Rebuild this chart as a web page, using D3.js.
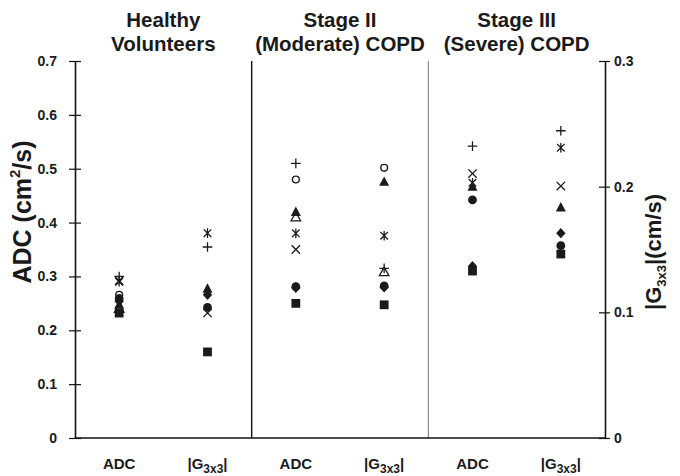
<!DOCTYPE html>
<html>
<head>
<meta charset="utf-8">
<script src="https://cdn.jsdelivr.net/npm/d3@7"></script>
<style>
body{margin:0;background:#fff;}
text{font-family:"Liberation Sans",Arial,sans-serif;font-weight:bold;fill:#1a1a1a;}
</style>
</head>
<body>
<svg id="chart"></svg>
<script>
// columns: healthy ADC, healthy G, stage II ADC, stage II G, stage III ADC, stage III G
var columns = ["hADC","hG","mADC","mG","sADC","sG"]
var groupTitles = [["Healthy","Volunteers"],["Stage II","(Moderate) COPD"],["Stage III","(Severe) COPD"]]
var leftTicks = [0,0.1,0.2,0.3,0.4,0.5,0.6,0.7]
var rightTicks = [0,0.1,0.2,0.3]

// one value per column, ADC columns in cm^2/s, G columns in cm/s (null = not shown)
var openCircle   = [0.266, null,   0.480, 0.215, null,  null]
var openTriangle = [0.240, null,   0.410, 0.132, null,  null]
var plus         = [0.300, 0.152,  0.510, 0.135, 0.542, 0.2445]
var cross        = [0.292, 0.0995, 0.350, null,  0.491, 0.2005]
var asterisk     = [0.290, 0.163,  0.380, 0.161, 0.474, 0.231]
var filledTri    = [0.248, 0.119,  0.420, 0.204, 0.467, 0.1836]
var filledCircle = [0.259, 0.104,  0.281, 0.121, 0.442, 0.153]
var diamond      = [0.254, 0.114,  0.279, 0.120, 0.319, 0.163]
var square       = [0.232, 0.0685, 0.250, 0.106, 0.310, 0.1464]

var series = [
  {shape:"openCircle", values:openCircle},
  {shape:"openTriangle", values:openTriangle},
  {shape:"plus", values:plus},
  {shape:"cross", values:cross},
  {shape:"asterisk", values:asterisk},
  {shape:"filledTri", values:filledTri},
  {shape:"filledCircle", values:filledCircle},
  {shape:"diamond", values:diamond},
  {shape:"square", values:square}
]

var screen = {width:680, height:476}
var margin = {left:75, right:75, top:61, bottom:38}
var plotRight = screen.width - margin.right
var plotBottom = screen.height - margin.bottom

var svg = d3.select("#chart")
  .attr("width", screen.width)
  .attr("height", screen.height)

var xScale = d3.scalePoint()
  .domain(columns)
  .range([margin.left, plotRight])
  .padding(0.5)

var yLeft = d3.scaleLinear().domain([0,0.7]).range([plotBottom, margin.top])
var yRight = d3.scaleLinear().domain([0,0.3]).range([plotBottom, margin.top])

var panelScale = d3.scaleLinear().domain([0,3]).range([margin.left, plotRight])

// panel separators
svg.append("line")
  .attr("x1", panelScale(1)).attr("x2", panelScale(1))
  .attr("y1", margin.top).attr("y2", plotBottom)
  .attr("stroke", "#111").attr("stroke-width", 1.4)
svg.append("line")
  .attr("x1", panelScale(2)).attr("x2", panelScale(2))
  .attr("y1", margin.top).attr("y2", plotBottom)
  .attr("stroke", "#777").attr("stroke-width", 1)

// bottom line
svg.append("line")
  .attr("x1", margin.left).attr("x2", plotRight)
  .attr("y1", plotBottom).attr("y2", plotBottom)
  .attr("stroke", "#111").attr("stroke-width", 1.6)

var leftAxis = d3.axisLeft(yLeft)
  .tickValues(leftTicks)
  .tickSizeOuter(0)
  .tickPadding(12)
  .tickFormat(function(d){ return d==0 ? "0" : d3.format(".1f")(d) })
var gl = svg.append("g")
  .attr("transform", "translate(" + margin.left + ",0)")
  .call(leftAxis)
gl.selectAll(".tick line").attr("x1", 6).attr("x2", -6).attr("stroke", "#111").attr("stroke-width", 1.2)
gl.select(".domain").attr("stroke", "#111").attr("stroke-width", 1.6)
gl.selectAll(".tick text").attr("font-size", 14).attr("fill", "#1a1a1a").attr("font-family", "Liberation Sans, Arial, sans-serif")

var rightAxis = d3.axisRight(yRight)
  .tickValues(rightTicks)
  .tickSizeOuter(0)
  .tickPadding(3)
  .tickFormat(function(d){ return d==0 ? "0" : d3.format(".1f")(d) })
var gr = svg.append("g")
  .attr("transform", "translate(" + plotRight + ",0)")
  .call(rightAxis)
gr.selectAll(".tick line").attr("x1", -6).attr("x2", 5).attr("stroke", "#111").attr("stroke-width", 1.2)
gr.select(".domain").attr("stroke", "#111").attr("stroke-width", 1.6)
gr.selectAll(".tick text").attr("font-size", 14).attr("fill", "#1a1a1a").attr("font-family", "Liberation Sans, Arial, sans-serif")

// panel titles
groupTitles.forEach(function(t, i){
  var cx = (panelScale(i) + panelScale(i+1)) / 2
  t.forEach(function(line, j){
    svg.append("text")
      .attr("x", cx)
      .attr("y", 27 + j*24)
      .attr("text-anchor", "middle")
      .attr("font-size", 20.5)
      .text(line)
  })
})

// category labels
columns.forEach(function(c, i){
  var t = svg.append("text")
    .attr("x", xScale(c))
    .attr("y", 469)
    .attr("text-anchor", "middle")
    .attr("font-size", 15)
  if (i % 2 == 0) {
    t.text("ADC")
  } else {
    t.append("tspan").text("|G")
    t.append("tspan").attr("font-size", 12).attr("dy", 4).text("3x3")
    t.append("tspan").attr("dy", -4).text("|")
  }
})

// axis titles
svg.append("text")
  .attr("transform", "translate(31,212) rotate(-90)")
  .attr("text-anchor", "middle")
  .attr("font-size", 25)
  .call(function(t){
    t.append("tspan").text("ADC (cm")
    t.append("tspan").attr("font-size", 15).attr("dy", -11).text("2")
    t.append("tspan").attr("dy", 11).text("/s)")
  })

svg.append("text")
  .attr("transform", "translate(661,252) rotate(-90)")
  .attr("text-anchor", "middle")
  .attr("font-size", 22)
  .call(function(t){
    t.append("tspan").text("|G")
    t.append("tspan").attr("font-size", 13).attr("dy", 5).text("3x3")
    t.append("tspan").attr("dy", -5).text("|(cm/s)")
  })

// markers
function drawMarker(g, shape, px, py){
  var s = 4.8
  var col = "#1a1a1a"
  if (shape == "plus") {
    g.append("path").attr("d", "M"+(px-s)+","+py+"H"+(px+s)+"M"+px+","+(py-s)+"V"+(py+s))
      .attr("stroke", col).attr("stroke-width", 1.3).attr("fill", "none")
  } else if (shape == "cross") {
    var c = 4.2
    g.append("path").attr("d", "M"+(px-c)+","+(py-c)+"L"+(px+c)+","+(py+c)+"M"+(px-c)+","+(py+c)+"L"+(px+c)+","+(py-c))
      .attr("stroke", col).attr("stroke-width", 1.3).attr("fill", "none")
  } else if (shape == "asterisk") {
    var c = 3.8
    g.append("path").attr("d", "M"+(px-c)+","+(py-c)+"L"+(px+c)+","+(py+c)+"M"+(px-c)+","+(py+c)+"L"+(px+c)+","+(py-c)+"M"+px+","+(py-s)+"V"+(py+s))
      .attr("stroke", col).attr("stroke-width", 1.3).attr("fill", "none")
  } else if (shape == "openCircle") {
    g.append("circle").attr("cx", px).attr("cy", py).attr("r", 3.4)
      .attr("stroke", col).attr("stroke-width", 1.4).attr("fill", "#fff")
  } else if (shape == "filledCircle") {
    g.append("circle").attr("cx", px).attr("cy", py).attr("r", 4.4).attr("fill", col)
  } else if (shape == "openTriangle") {
    g.append("path").attr("d", "M"+px+","+(py-4.8)+"L"+(px+4.8)+","+(py+3.6)+"L"+(px-4.8)+","+(py+3.6)+"Z")
      .attr("stroke", col).attr("stroke-width", 1.3).attr("fill", "none")
  } else if (shape == "filledTri") {
    g.append("path").attr("d", "M"+px+","+(py-5.2)+"L"+(px+5)+","+(py+4.2)+"L"+(px-5)+","+(py+4.2)+"Z")
      .attr("fill", col)
  } else if (shape == "diamond") {
    g.append("path").attr("d", "M"+px+","+(py-5.2)+"L"+(px+4.7)+","+py+"L"+px+","+(py+5.2)+"L"+(px-4.7)+","+py+"Z")
      .attr("fill", col)
  } else if (shape == "square") {
    g.append("rect").attr("x", px-4.4).attr("y", py-4.4).attr("width", 8.8).attr("height", 8.8).attr("fill", col)
  }
}

var markers = svg.append("g")
series.forEach(function(s){
  s.values.forEach(function(v, i){
    if (v == null) return
    var yScale = (i % 2 == 0) ? yLeft : yRight
    drawMarker(markers, s.shape, xScale(columns[i]), yScale(v))
  })
})
</script>
</body>
</html>
